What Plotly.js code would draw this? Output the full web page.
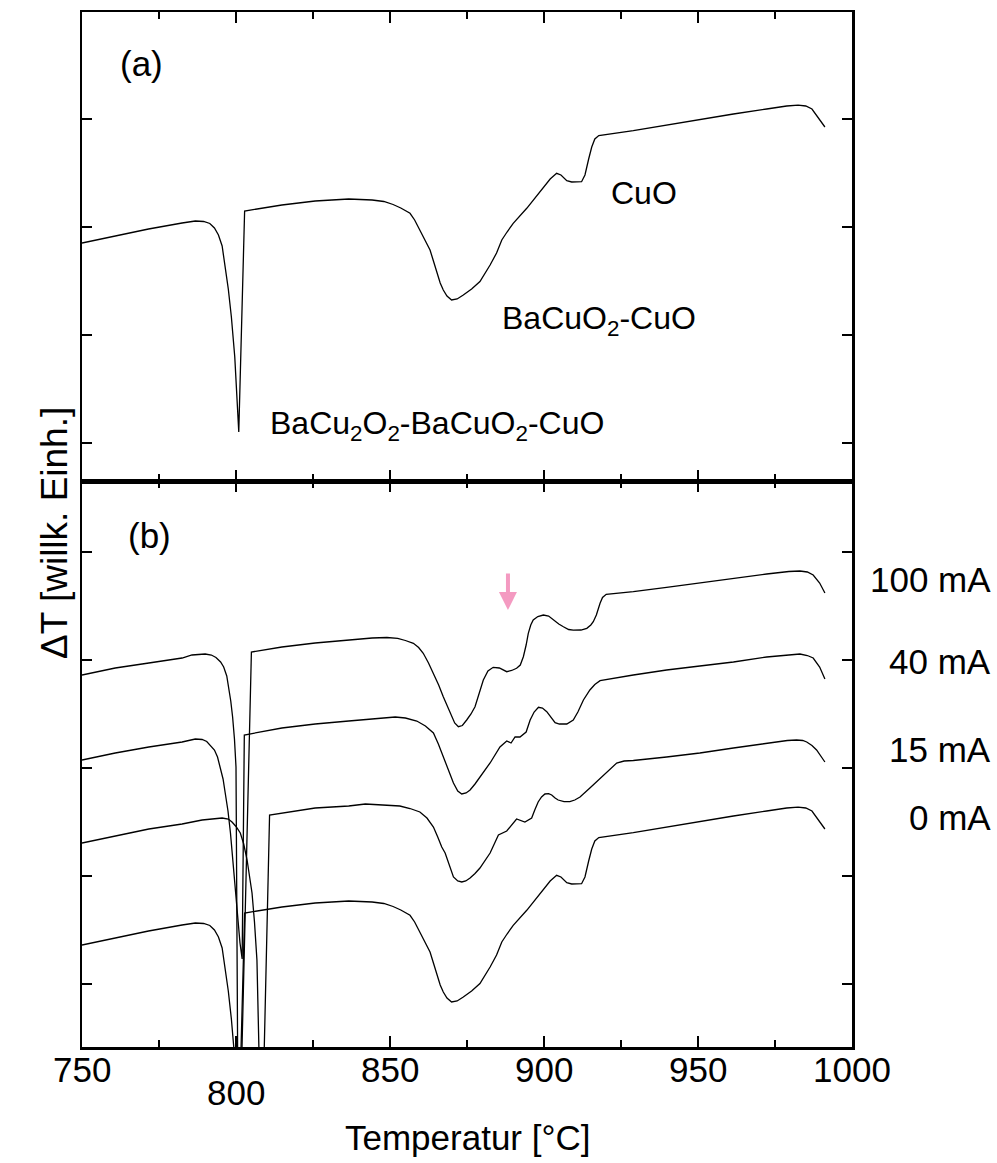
<!DOCTYPE html>
<html>
<head>
<meta charset="utf-8">
<script src="https://cdn.plot.ly/plotly-3.0.1.min.js"></script>
<style>
  html, body { margin: 0; padding: 0; background: #fff; }
  #chart { width: 997px; height: 1163px; }
</style>
</head>
<body>
<div id="chart"></div>
<script>
// DTA runs of the BaCuO2 / CuO mixture, temperature in °C, signal in arbitrary units.

// (a) run without current; the same run is the 0 mA curve in (b)
const tempA = [750, 760.8, 771.6, 782.5, 786.8, 789.5, 791.5, 793, 794.3, 795.5, 796.5, 797.5, 798.5,
  799.6, 800.9, 802.8, 814.9, 825.7, 836.6, 844.2, 848, 851, 853.5, 856.5, 858, 859.7, 861.5, 863,
  864.2, 865.2, 866.3, 867.3, 868.5, 870, 871.8, 873.8, 876.5, 879.2, 881, 882.5, 884.6, 886.3, 888,
  890, 894.4, 897, 899.8, 902, 904.1, 905.5, 907.4, 909, 912.2, 913.3, 914.5, 915.5, 916.5, 917.8,
  929, 939.8, 950.6, 961.5, 972.3, 978.8, 982.5, 985, 987, 989, 991.2];
const dtaA = [238, 245, 252, 258, 260, 259.5, 257.5, 253, 246, 235, 214, 192, 164,
  124, 49, 270, 276, 280, 282, 281, 279.5, 276.5, 273, 267.7, 261, 251, 241, 231,
  219, 208, 198, 191, 185, 181, 182, 186, 192, 199.5, 208, 216, 228, 241, 249,
  257.7, 272.7, 283, 294, 302, 307.7, 306, 300.3, 299, 299.3, 306, 322, 334, 342, 345.5,
  350.3, 356, 361.7, 367, 372, 375, 375.8, 375, 372, 364, 354];

// (b) runs with current through the sample
const temp100 = [750, 760.8, 771.7, 782.5, 785.7, 790, 792, 793.5, 795, 796, 797, 797.6, 798.3, 798.9,
  799.5, 800, 800.8, 805, 814.9, 825.7, 836.6, 844.2, 849, 852.5, 855, 857.6, 859.3, 860.8, 862.5,
  864.1, 865.8, 867.3, 868.7, 870, 871, 872.2, 873.5, 874.9, 876.3, 877.6, 879, 880.3, 881.8, 883.5,
  885.5, 887.9, 889.5, 891.1, 892.3, 893.3, 894.2, 894.9, 895.7, 896.5, 898, 899.8, 901.5, 903,
  904.8, 906.3, 908, 909.5, 912, 913.9, 915.2, 916, 917, 918.2, 919, 920.2, 929, 939.8, 950.6,
  961.5, 972.3, 979.5, 983.1, 985.5, 987.4, 989.5, 991.2];
const dta100 = [372, 379, 384, 389, 392, 393, 392, 389.5, 385, 380, 371, 360, 346, 330,
  308, 280, -150, 395, 400, 404, 407, 409, 409.5, 408.7, 406.5, 403.7, 399.5, 393.7, 384,
  373.7, 362, 350.3, 340, 330.3, 324, 320.3, 321.5, 327, 333, 340.3, 354, 367, 376, 379.7,
  379, 375.3, 376.5, 378.7, 382, 390.3, 402, 413.7, 422, 427, 430.5, 432, 431, 427,
  423, 420.3, 417.5, 416.8, 417, 418.7, 422, 425.3, 432, 443.7, 449.5, 452.7, 455.3, 459.7, 464.3,
  468.7, 473, 475.5, 476, 475, 472, 464, 454];

const temp40 = [750, 760.8, 771.7, 782.5, 786.8, 789, 790.5, 792, 793, 794, 794.9, 795.8, 796.5,
  797.4, 798.2, 799, 799.8, 800.6, 801.3, 802, 802.7, 814.9, 825.7, 836.6, 851.7, 855, 858.7,
  861.5, 864.1, 865.7, 867.3, 869, 870.6, 872, 873.3, 874.7, 876, 877.6, 879.2, 882.5, 885.7,
  887.9, 889.3, 890.6, 892.2, 894.2, 895.5, 896.8, 898.2, 899.5, 900.9, 902.3, 903.6, 905, 907.4,
  909.5, 911, 912.8, 914.9, 916.5, 918.2, 929, 939.8, 950.6, 961.5, 972.3, 980, 983.1, 985.5,
  987.4, 989.5, 991.2];
const dta40 = [287, 294, 300, 305, 308, 307.5, 305.5, 301, 297, 290, 280, 268, 254,
  236, 214, 186, 154, 125, 104, 88, 312, 319, 323, 326, 330, 329, 326,
  321, 314, 303, 290, 276, 264, 256, 253, 254, 257, 263, 270, 284, 300,
  306, 304, 310, 310, 315, 327, 335, 339.7, 339, 335.3, 330, 324.3, 323, 323,
  327, 335, 347, 357, 362.5, 366.3, 372, 377, 381, 385, 390, 392.5, 393, 391.5,
  389, 380, 368];

const temp15 = [750, 760.8, 771.7, 782.5, 789, 795.5, 797.5, 798.7, 800, 801.4, 802.5, 803.6, 804.4,
  805.2, 806, 806.8, 808.3, 810.9, 825.7, 836.6, 842, 849.6, 853.2, 856.5, 859.7, 862, 864.1,
  865.5, 866.8, 867.9, 869.3, 870.6, 872, 873.3, 874.6, 876, 877.6, 879.2, 882.5, 884, 885.2,
  887.9, 889.5, 891.1, 893.8, 896, 897, 898.1, 899.2, 900.3, 901.5, 902.5, 903.6, 904.6, 906.5,
  908.4, 910, 911.7, 914.9, 917, 919.3, 921.5, 923.6, 926, 929, 939.8, 950.6, 961.5, 972.3, 979,
  982, 984, 985.3, 987, 988.5, 991.2];
const dta15 = [204, 211, 218, 223, 227, 229, 228, 225, 220.5, 214, 203, 187, 172,
  154, 125, 87, -120, 232, 239, 241, 243, 242, 241, 238.5, 235, 229, 220,
  210, 200, 194, 181, 170, 166, 165, 166, 169, 173.5, 179, 194, 204, 212,
  216, 222, 228, 225, 229, 237, 245, 250, 253, 253.3, 252, 249, 247, 245.3,
  245.3, 247, 250, 259, 265, 272, 278, 284, 286, 286.5, 290, 294, 299, 304, 306.5,
  307, 306.5, 305, 301.5, 297, 285];

// vertical shift of the 0 mA run when it is stacked in (b)
const shift0mA = -136;

// x-axis ticks and their labels
const tickStep = 50;
const minorTickStep = 25;
const tickLabels = [750, 800, 850, 900, 950, 1000];

// texts
const phaseLabels = ['CuO', 'BaCuO<sub>2</sub>-CuO', 'BaCu<sub>2</sub>O<sub>2</sub>-BaCuO<sub>2</sub>-CuO'];
const currentLabels = ['100 mA', '40 mA', '15 mA', '0 mA'];
const arrowTemp = 888.3;

const FONT = 'Liberation Sans, Arial, Helvetica, sans-serif';
const lineStyle = { color: '#000', width: 1.3 };

const dta0mA = dtaA.map(v => v + shift0mA);

const traces = [
  { x: tempA, y: dtaA, xaxis: 'x2', yaxis: 'y2' },
  { x: temp100, y: dta100, xaxis: 'x', yaxis: 'y' },
  { x: temp40, y: dta40, xaxis: 'x', yaxis: 'y' },
  { x: temp15, y: dta15, xaxis: 'x', yaxis: 'y' },
  { x: tempA, y: dta0mA, xaxis: 'x', yaxis: 'y' }
].map(t => Object.assign(t, { type: 'scatter', mode: 'lines', line: lineStyle, hoverinfo: 'skip' }));

const xCommon = {
  range: [750, 1000],
  showline: true, linewidth: 2.5, linecolor: '#000', mirror: 'ticks',
  ticks: 'inside', ticklen: 11, tickwidth: 1.2, tickcolor: '#000',
  tick0: 750, dtick: tickStep, showticklabels: false,
  minor: { ticks: 'inside', ticklen: 7, tickwidth: 1.2, tickcolor: '#000', tick0: 750, dtick: minorTickStep, showgrid: false },
  showgrid: false, zeroline: false
};
const yCommon = {
  showline: true, linewidth: 2.5, linecolor: '#000', mirror: 'ticks',
  ticks: 'inside', ticklen: 10, tickwidth: 1.2, tickcolor: '#000',
  dtick: 108, showticklabels: false, showgrid: false, zeroline: false
};

const splitB = 566 / 1035;

// temperature labels under the lower panel (the 800 label sits lower than the rest)
const tickLabelNotes = tickLabels.map(t => ({
  text: String(t), x: t, xref: 'x', y: t === 800 ? -0.0444 : -0.0222, yref: 'paper',
  xanchor: 'center', yanchor: 'middle', showarrow: false, font: { size: 35 }
}));

const layout = {
  width: 997, height: 1163,
  margin: { l: 82, r: 145, t: 12, b: 116 },
  paper_bgcolor: '#fff', plot_bgcolor: '#fff',
  showlegend: false,
  font: { family: FONT, color: '#000', size: 35 },
  xaxis: Object.assign({}, xCommon, { anchor: 'y' }),
  xaxis2: Object.assign({}, xCommon, { anchor: 'y2', matches: 'x' }),
  yaxis: Object.assign({}, yCommon, { domain: [0, splitB], range: [0, 566], tick0: 63 }),
  yaxis2: Object.assign({}, yCommon, { domain: [splitB, 1], range: [0, 469], tick0: 38 }),
  annotations: tickLabelNotes.concat([
    { text: 'Temperatur [°C]', x: 0.5, xref: 'paper', y: -0.0879, yref: 'paper',
      xanchor: 'center', yanchor: 'middle', showarrow: false, font: { size: 35 } },
    { text: 'ΔT [willk. Einh.]', x: -0.0656, y: 0.4966, xref: 'paper', yref: 'paper', textangle: -90,
      showarrow: false, font: { size: 37 } },
    { text: '(a)', x: 769.2, y: 418, xref: 'x2', yref: 'y2', showarrow: false, font: { size: 35 } },
    { text: '(b)', x: 771.8, y: 512, xref: 'x', yref: 'y', showarrow: false, font: { size: 35 } },
    { text: phaseLabels[0], x: 932.5, y: 288, xref: 'x2', yref: 'y2', showarrow: false, font: { size: 32 } },
    { text: phaseLabels[1], x: 917.9, y: 161, xref: 'x2', yref: 'y2', showarrow: false, font: { size: 32 } },
    { text: phaseLabels[2], x: 865.4, y: 56, xref: 'x2', yref: 'y2', showarrow: false, font: { size: 32 } },
    { text: currentLabels[0], x: 1.183, y: 468, xref: 'paper', yref: 'y', xanchor: 'right', showarrow: false, font: { size: 35 } },
    { text: currentLabels[1], x: 1.183, y: 386, xref: 'paper', yref: 'y', xanchor: 'right', showarrow: false, font: { size: 35 } },
    { text: currentLabels[2], x: 1.183, y: 298, xref: 'paper', yref: 'y', xanchor: 'right', showarrow: false, font: { size: 35 } },
    { text: currentLabels[3], x: 1.183, y: 229.5, xref: 'paper', yref: 'y', xanchor: 'right', showarrow: false, font: { size: 35 } },
    { text: '', x: arrowTemp, y: 437, xref: 'x', yref: 'y', showarrow: true, ax: 0, ay: -38,
      arrowcolor: '#f49ac1', arrowwidth: 4, arrowhead: 2, arrowsize: 0.9, standoff: 0 }
  ])
};

Plotly.newPlot('chart', traces, layout, { displayModeBar: false, staticPlot: true });
</script>
</body>
</html>
